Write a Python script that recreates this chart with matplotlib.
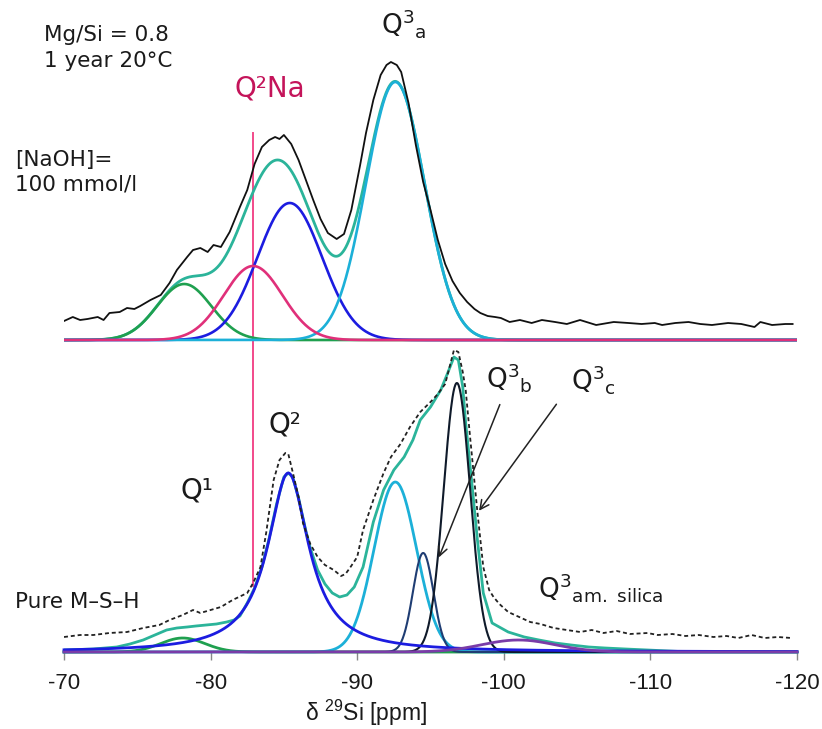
import numpy as np
import matplotlib
matplotlib.use("Agg")
import matplotlib.pyplot as plt

# ---------------- data (ppm, intensity in plot units) ----------------
# vertical offset of the upper spectrum
top_offset = 312

# Upper spectrum: experimental (NaOH 100 mmol/l)
top_exp_ppm = [-70.0, -70.6, -71.1, -71.6, -72.3, -72.7, -73.1, -73.8, -74.3, -74.8, -75.2, -75.9,
               -76.6, -77.2, -77.7, -78.4, -78.8, -79.3, -79.8, -80.2, -80.7, -81.3, -82.0, -82.5,
               -83.0, -83.5, -84.0, -84.4, -84.7, -85.0, -85.5, -86.0, -86.5, -87.0, -87.5, -88.0,
               -88.6, -89.1, -89.6, -90.2, -90.6, -91.1, -91.6, -92.0, -92.3, -92.7, -93.0, -93.5,
               -94.0, -94.5, -95.0, -95.5, -96.0, -96.5, -97.0, -97.5, -98.0, -98.4, -98.9, -99.4,
               -99.8, -100.4, -101.1, -101.9, -102.6, -103.5, -104.3, -105.2, -106.3, -107.5,
               -108.5, -109.4, -110.3, -110.8, -111.7, -112.6, -113.4, -114.2, -115.3, -116.2,
               -117.1, -117.5, -118.3, -119.2, -119.7]
top_exp_int = [19, 23, 20, 21, 23, 20, 27, 28, 32, 31, 34, 40,
               45, 57, 70, 83, 90, 92, 88, 95, 93, 108, 133, 150,
               176, 193, 200, 203, 201, 205, 196, 180, 160, 140, 121, 107,
               101, 106, 130, 175, 207, 240, 265, 275, 278, 275, 268, 237,
               195, 158, 130, 100, 76, 59, 47, 38, 31, 27, 24, 23,
               22, 18, 20, 17, 20, 18, 16, 20, 15, 18,
               17, 16, 17, 15, 17, 18, 16, 15, 17, 16,
               13, 18, 15, 16, 16]

# Upper spectrum: fitted components (Q1, Q2Na, Q2, Q3a)
top_names = ["Q1", "Q2Na", "Q2", "Q3a"]
top_center = [-78.2, -82.9, -85.4, -92.6]
top_height = [56, 74, 137, 258]
top_width = [1.85, 2.0, 2.2, 2.0]
top_lorentz = [0.0, 0.0, 0.0, 0.0]
top_colors = ["#1fa04f", "#e0307a", "#1c1ce0", "#1cb0d8"]

# Lower spectrum: experimental (pure M-S-H)
bot_exp_ppm = [-70.0, -71.1, -72.0, -73.1, -74.3, -75.4, -76.5, -77.2, -78.1, -78.8, -79.3, -80.0,
               -80.7, -81.5, -82.5, -82.9, -83.4, -83.8, -84.3, -84.7, -85.1, -85.3, -85.6, -86.0,
               -86.3, -86.8, -87.3, -87.8, -88.4, -88.9, -89.2, -89.5, -90.0, -90.4, -91.1, -91.8,
               -92.3, -92.95, -93.6, -94.3, -95.0, -95.5, -96.0, -96.3, -96.6, -96.9, -97.2, -97.4,
               -97.7, -98.0, -98.2, -98.6, -99.0, -99.3, -99.7, -100.3, -100.9, -101.8, -102.5,
               -103.4, -104.3, -105.2, -106.0, -106.8, -107.7, -108.6, -109.8, -110.5, -111.5,
               -112.4, -113.3, -114.3, -115.2, -116.0, -116.9, -117.8, -118.7, -119.6]
bot_exp_int = [15, 17, 17, 19, 20, 24, 27, 32, 37, 42, 39, 42,
               45, 52, 59, 69, 85, 120, 172, 192, 199, 198, 180, 155,
               129, 108, 95, 87, 82, 76, 78, 84, 95, 122, 152, 179,
               195, 208, 225, 240, 250, 258, 268, 285, 302, 300, 280, 262,
               215, 170, 140, 85, 62, 55, 48, 40, 36, 30, 28,
               24, 22, 20, 22, 19, 21, 18, 19, 17, 18,
               16, 17, 15, 16, 14, 17, 14, 15, 14]

# Lower spectrum: fit envelope
bot_fit_ppm = [-70.0, -72.0, -73.6, -74.5, -75.4, -76.2, -77.0, -77.7, -78.4, -79.0, -79.7, -80.4,
               -81.1, -81.6, -82.0, -82.5, -83.0, -83.5, -84.0, -84.5, -85.0, -85.3, -85.6, -86.0,
               -86.5, -86.8, -87.3, -87.8, -88.3, -88.8, -89.3, -89.8, -90.4, -91.1, -91.8, -92.5,
               -93.2, -93.8, -94.3, -95.0, -95.7, -96.2, -96.6, -96.9, -97.2, -97.4, -97.8, -98.2,
               -98.6, -99.2, -100.3, -101.4, -102.4, -103.5, -104.6, -105.8, -106.9, -108.3,
               -109.8, -112.0, -120.0]
bot_fit_int = [2, 3, 5, 8, 12, 17, 22, 24, 25, 26, 27, 28,
               30, 32, 36, 49, 64, 85, 114, 148, 175, 179, 175, 154,
               121, 104, 82, 68, 59, 55, 57, 65, 85, 130, 162, 182,
               195, 212, 232, 245, 262, 280, 295, 292, 265, 229, 172, 112,
               59, 29, 20, 15, 12, 9, 7, 5, 4, 3,
               2, 0.5, 0]

# Lower spectrum: fitted components (Q1, Q2, Q3a, Q3b, Q3c, Q3 am. silica)
bot_names = ["Q1", "Q2", "Q3a", "Q3b", "Q3c", "Q3am"]
bot_center = [-78.1, -85.3, -92.6, -94.5, -96.8, -101.0]
bot_height = [14, 179, 170, 99, 269, 12]
bot_width = [1.5, 1.7, 1.45, 0.7, 0.9, 2.5]
bot_lorentz = [0.0, 1.0, 0.0, 0.0, 0.0, 0.0]
bot_colors = ["#1fa04f", "#1c1ce0", "#1cb0d8", "#1f3d73", "#0f1a2a", "#7a3ca8"]

tick_vals = [-70, -80, -90, -100, -110, -120]
tick_labels = ["-70", "-80", "-90", "-100", "-110", "-120"]

q2na_ppm = -82.9


def peak(x, c, h, w, eta):
    g = np.exp(-(x - c) ** 2 / (2 * w ** 2))
    lo = w ** 2 / ((x - c) ** 2 + w ** 2)
    return h * ((1 - eta) * g + eta * lo)


# ---------------- figure ----------------
W, H = 822, 729
fig = plt.figure(figsize=(W / 100, H / 100), dpi=100)
ax = fig.add_axes([64 / W, (H - 652) / H, (797 - 64) / W, 652 / H])
ax.set_xlim(-70, -120)
ax.set_ylim(0, 652)
for s in ["top", "left", "right"]:
    ax.spines[s].set_visible(False)
ax.spines["bottom"].set_color("#888888")
ax.set_yticks([])
ax.set_xticks(tick_vals)
ax.set_xticklabels(tick_labels, family=["Liberation Sans", "DejaVu Sans"], fontsize=16,
                   color="#1a1a1a")
ax.tick_params(axis="x", direction="out", length=6, width=1, color="#888888", pad=9)

x = np.linspace(-70, -120, 1501)

# --- upper spectrum ---
comps_top = [peak(x, c, h, w, e) for c, h, w, e in zip(top_center, top_height, top_width, top_lorentz)]
env_top = np.sum(comps_top, axis=0)
ax.plot(x, top_offset + env_top, color="#2bb49a", lw=2.0, zorder=3)
order_top = [0, 2, 3, 1]
for i in order_top:
    ax.plot(x, top_offset + comps_top[i], color=top_colors[i], lw=1.9, zorder=4)
ax.plot(top_exp_ppm, np.array(top_exp_int) + top_offset, color="#111111", lw=1.3, zorder=5)

# --- lower spectrum ---
comps_bot = [peak(x, c, h, w, e) for c, h, w, e in zip(bot_center, bot_height, bot_width, bot_lorentz)]
ax.plot(bot_fit_ppm, bot_fit_int, color="#2bb49a", lw=2.0, zorder=3)
for i in [0, 2, 3, 4, 1, 5]:
    lw = 1.5 if i in (3, 4) else 2.0
    ax.plot(x, comps_bot[i], color=bot_colors[i], lw=lw, zorder=4, clip_on=False)
ax.plot(bot_exp_ppm, bot_exp_int, color="#222222", lw=1.3, ls=(0, (2.2, 1.6)), zorder=5)

# Q2Na marker line
ax.plot([q2na_ppm, q2na_ppm], [652 - 133, 66], color="#f24a8a", lw=1.4, zorder=2)

# arrows
ax.annotate("", xy=(-95.5, 92), xytext=(-99.8, 250),
            arrowprops=dict(arrowstyle="->", color="#222222", lw=1.1, mutation_scale=16), zorder=6)
ax.annotate("", xy=(-98.2, 139), xytext=(-103.7, 250),
            arrowprops=dict(arrowstyle="->", color="#222222", lw=1.1, mutation_scale=16), zorder=6)

# ---------------- text ----------------
plt.rcParams["mathtext.fontset"] = "dejavusans"
tc = "#1a1a1a"


def ftxt(px, py, s, **kw):
    kw.setdefault("color", tc)
    kw.setdefault("va", "baseline")
    kw.setdefault("ha", "left")
    kw.setdefault("family", ["DejaVu Sans"])
    fig.text(px / W, 1 - py / H, s, **kw)


ftxt(44, 41, "Mg/Si = 0.8", fontsize=15.5)
ftxt(44, 67, "1 year 20°C", fontsize=15.5)
ftxt(15, 166, "[NaOH]=", fontsize=15.5)
ftxt(15, 191, "100 mmol/l", fontsize=15.5)
ftxt(234, 97, "Q²Na", fontsize=20, color="#c4145a")
ftxt(381, 34, r"Q$^{3}{}_{\mathregular{a}}$", fontsize=19)
ftxt(180, 498, "Q¹", fontsize=20)
ftxt(268, 432, "Q²", fontsize=20)
ftxt(15, 608, "Pure M–S–H", fontsize=15.5)
ftxt(486, 387, r"Q$^{3}{}_{\mathregular{b}}$", fontsize=19)
ftxt(571, 390, r"Q$^{3}{}_{\mathregular{c}}$", fontsize=19)
ftxt(538, 597, r"Q$^{3}{}_{\mathregular{am.\ silica}}$", fontsize=19)
ftxt(366, 721, r"δ $^{\mathregular{29}}$Si [ppm]", fontsize=16.5, ha="center",
     family=["Liberation Sans", "DejaVu Sans"])

fig.savefig("out.png", dpi=100)
